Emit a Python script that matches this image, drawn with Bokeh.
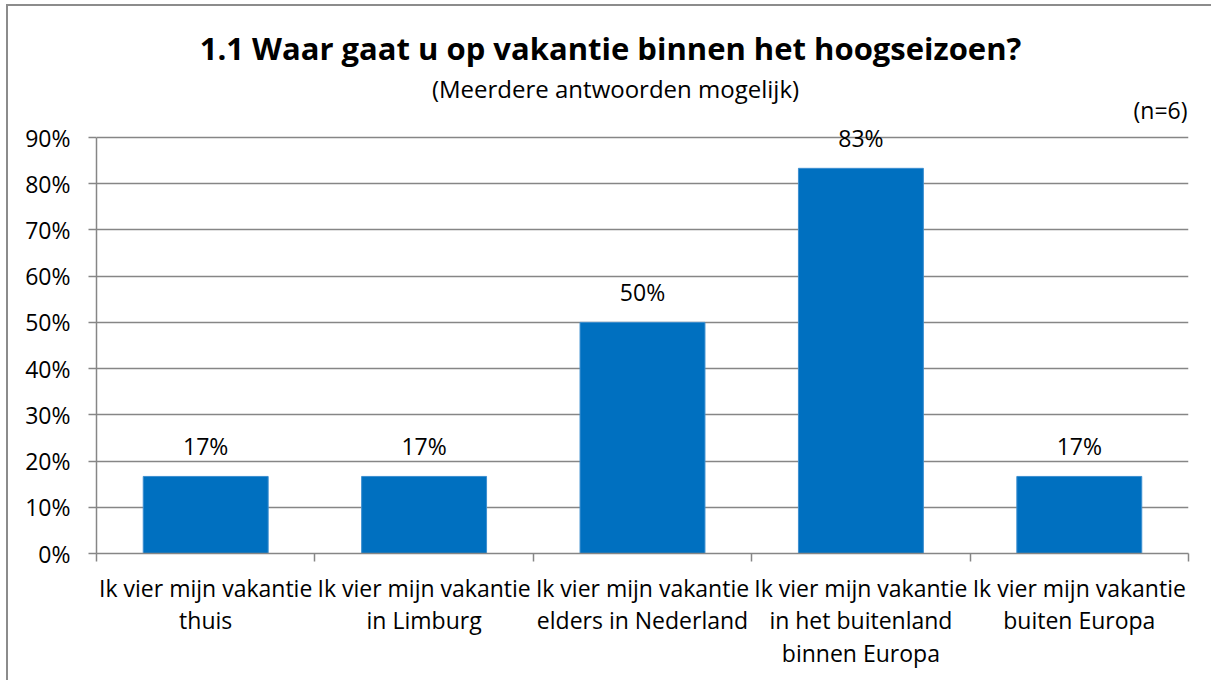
from bokeh.plotting import figure
from bokeh.models import Range1d, FixedTicker, Label, NumeralTickFormatter
from bokeh.embed import file_html
from bokeh.resources import INLINE
from bokeh.core.properties import value

# ---- data ----
categories = [
    "Ik vier mijn vakantie\nthuis",
    "Ik vier mijn vakantie\nin Limburg",
    "Ik vier mijn vakantie\nelders in Nederland",
    "Ik vier mijn vakantie\nin het buitenland\nbinnen Europa",
    "Ik vier mijn vakantie\nbuiten Europa",
]
values = [0.1667, 0.1667, 0.50, 0.8333, 0.1667]
value_labels = ["17%", "17%", "50%", "83%", "17%"]
y_ticks = [0.0, 0.1, 0.2, 0.3, 0.4, 0.5, 0.6, 0.7, 0.8, 0.9]
title_text = "1.1 Waar gaat u op vakantie binnen het hoogseizoen?"
subtitle_text = "(Meerdere antwoorden mogelijk)"
n_text = "(n=6)"

FONT = "Open Sans"
GREY = "#868686"
BLUE = "#0070C0"

n = len(categories)
centers = [i + 0.5 for i in range(n)]
bounds = list(range(n + 1))

# plot area: 416px for the 0..90% axis; the frame extends upward to hold the titles
AXIS_PX = 416
FRAME_PX = 539
y_top = y_ticks[-1] * FRAME_PX / AXIS_PX

p = figure(
    frame_width=1092, frame_height=FRAME_PX,
    output_backend="svg", toolbar_location=None,
    x_range=Range1d(0, n), y_range=Range1d(0, y_top),
    min_border_left=88, min_border_right=23,
    min_border_top=8, min_border_bottom=127,
)
p.outline_line_color = None
p.background_fill_color = "white"
p.border_fill_color = "white"

p.vbar(x=centers, top=values, width=0.572, fill_color=BLUE, line_color="#3d8fd0", line_width=1)

p.text(x=centers, y=values, text=value_labels, text_align="center", text_baseline="alphabetic",
       y_offset=-30, text_font=value(FONT), text_font_size="23px", text_color="black")

# x axis
xa = p.xaxis[0]
xa.ticker = FixedTicker(ticks=centers, minor_ticks=bounds)
xa.major_label_overrides = {c: lab for c, lab in zip(centers, categories)}
xa.major_tick_out = 0
xa.major_tick_in = 0
xa.minor_tick_out = 8
xa.minor_tick_in = 0
xa.minor_tick_line_color = GREY
xa.minor_tick_line_width = 1.5
xa.axis_line_color = GREY
xa.axis_line_width = 1.5
xa.major_label_text_font = FONT
xa.major_label_text_font_size = "23px"
xa.major_label_text_color = "black"
xa.major_label_text_line_height = 1.03
xa.major_label_standoff = 10

# y axis
ya = p.yaxis[0]
ya.ticker = FixedTicker(ticks=y_ticks, minor_ticks=[])
ya.formatter = NumeralTickFormatter(format="0%")
ya.bounds = (y_ticks[0], y_ticks[-1])
ya.major_tick_out = 8
ya.major_tick_in = 0
ya.major_tick_line_color = GREY
ya.major_tick_line_width = 1.5
ya.axis_line_color = GREY
ya.axis_line_width = 1.5
ya.major_label_text_font = FONT
ya.major_label_text_font_size = "23px"
ya.major_label_text_color = "black"
ya.major_label_standoff = 18

p.xgrid.visible = False
p.ygrid.ticker = FixedTicker(ticks=y_ticks, minor_ticks=[])
p.ygrid.grid_line_color = GREY
p.ygrid.grid_line_width = 1.5

# positions relative to the plot frame (x from left, y from bottom)
p.add_layout(Label(x=514, y=506, x_units="screen", y_units="screen", text=title_text,
                   text_font=FONT, text_font_size="31px", text_font_style="bold",
                   text_align="center", text_baseline="alphabetic", text_color="black"))
p.add_layout(Label(x=519, y=465, x_units="screen", y_units="screen", text=subtitle_text,
                   text_font=FONT, text_font_size="24px",
                   text_align="center", text_baseline="alphabetic", text_color="black"))
p.add_layout(Label(x=1091, y=444, x_units="screen", y_units="screen", text=n_text,
                   text_font=FONT, text_font_size="23px",
                   text_align="right", text_baseline="alphabetic", text_color="black"))

p.styles = {"margin-left": "6px", "margin-top": "4px",
            "border-left": "2px solid #8c8c8c", "border-top": "2px solid #8c8c8c"}

open("out.html", "w").write(file_html(p, INLINE))
